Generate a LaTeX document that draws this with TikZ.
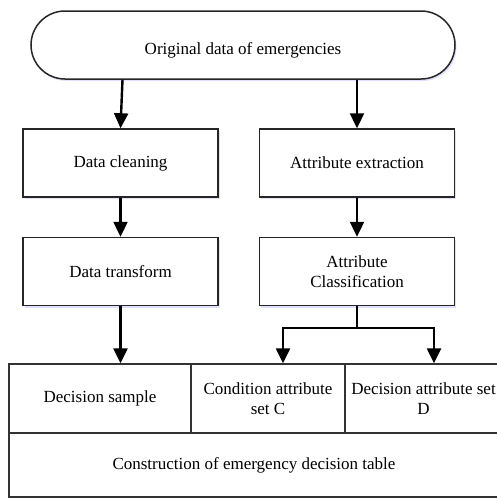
\documentclass[tikz,border=0pt]{standalone}
\usepackage{fontspec}
\setmainfont{Liberation Serif}
\usetikzlibrary{positioning,arrows.meta,calc,shadows}

\begin{document}
\begin{tikzpicture}[
x=1pt,y=-1pt,
font=\fontsize{17}{19.5}\selectfont,
box/.style={rectangle,draw=black!85,line width=1.5pt,inner sep=0pt,align=center,
  minimum width=195pt,minimum height=68pt,fill=white,
  drop shadow={shadow xshift=1.5pt,shadow yshift=-2pt,fill=blue!30,opacity=0.4}},
cell/.style={rectangle,draw=black!80,line width=1.4pt,inner sep=0pt,align=center,minimum height=69pt},
arr/.style={-{Triangle[width=14pt,length=15pt]},line width=2.4pt}
]
\useasboundingbox (0,0) rectangle (497,498);

% source of the data
\node[box,rounded corners=34pt,minimum width=424pt] (orig) at (243,45)
  {\raisebox{-9.5pt}[0pt][0pt]{Original data of emergencies}};

% two processing branches
\node[box] (clean) at (120.5,163) {Data cleaning};
\node[box] (trans) at (120.5,271.5) {Data transform};
\node[box] (extr) at (357,163) {Attribute extraction};
\node[box] (class) at (357,271.5) {Attribute\\Classification};

% decision table
\node[cell,minimum width=182pt] (sample) at (100,398.5) {Decision sample};
\node[cell,minimum width=154pt] (cond) at (268,398.5) {Condition attribute\\set C};
\node[cell,minimum width=157pt] (dec) at (423.5,398.5) {Decision attribute set\\D};
\node[cell,minimum width=490pt,minimum height=64pt] (table) at (254,465) {Construction of emergency decision table};

\draw[arr] ([xshift=2pt]clean.north |- orig.south) -- (clean.north);
\draw[arr] (extr.north |- orig.south) -- (extr.north);
\draw[arr] (clean) -- (trans);
\draw[arr] (extr) -- (class);
\draw[arr] (trans.south) -- (trans.south |- sample.north);

% split towards C and D
\coordinate (split) at ($(class.south)+(0,22)$);
\draw[line width=2.4pt] (class.south) -- (split);
\draw[arr] (split) -| ([xshift=15pt]cond.north);
\draw[arr] (split) -| ([xshift=10.5pt]dec.north);
\end{tikzpicture}
\end{document}
